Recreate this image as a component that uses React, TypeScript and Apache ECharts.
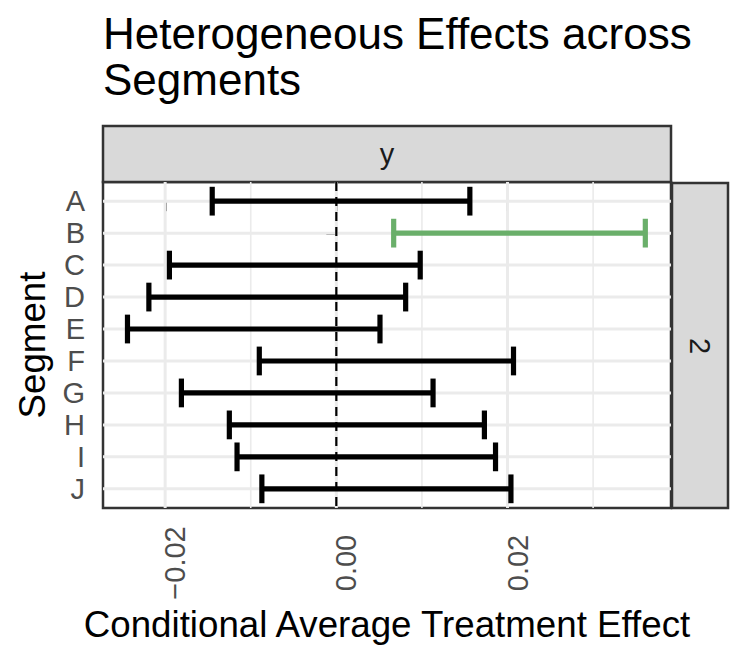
import React, { useEffect, useRef } from "react";
import * as echarts from "echarts";

// ---- data ----
const segments = ["A", "B", "C", "D", "E", "F", "G", "H", "I", "J"];
const lowerCI = [-0.0145, 0.0067, -0.0195, -0.0219, -0.0244, -0.009, -0.0181, -0.0125, -0.0116, -0.0087];
const upperCI = [0.0156, 0.0361, 0.0098, 0.0081, 0.0051, 0.0207, 0.0113, 0.0173, 0.0186, 0.0204];
const xTicks = [-0.02, 0, 0.02];
const xMinorGrid = [-0.01, 0.01, 0.03];
const xMin = -0.02726;
const xMax = 0.0391;
const refValue = 0;
const facetCol = "y";
const facetRow = "2";
const titleText = "Heterogeneous Effects across\nSegments";
const xTitle = "Conditional Average Treatment Effect";
const yTitle = "Segment";

const FONT = '"Liberation Sans", Arial, Helvetica, sans-serif';
const GREEN = "#6AAF6A";
const GRID_COL = "#EBEBEB";
const DARK = "#333333";

const fmtX = (v: number) => {
  const s = Math.abs(v).toFixed(2);
  return v < -1e-9 ? "\u2212" + s : s;
};

export default function App() {
  const ref = useRef<HTMLDivElement>(null);
  useEffect(() => {
    if (!ref.current) return;
    const chart = echarts.init(ref.current, null, { renderer: "svg" });
    const yIdx = segments.map((_, i) => i);

    const gridData: number[][] = [
      ...xTicks.map((v) => [0, v]),
      ...xMinorGrid.map((v) => [1, v]),
      ...yIdx.map((i) => [2, i]),
      [3, refValue],
    ];

    const option: any = {
      animation: false,
      grid: {
        left: 103,
        top: 182,
        width: 568,
        height: 326,
        show: true,
        backgroundColor: "#ffffff",
        borderColor: DARK,
        borderWidth: 2.5,
        containLabel: false,
        outerBoundsMode: "none",
      },
      xAxis: {
        type: "value",
        min: xMin,
        max: xMax,
        splitLine: { show: false },
        axisLine: { show: false },
        axisTick: {
          show: true,
          customValues: xTicks,
          length: 10,
          lineStyle: { color: DARK, width: 3 },
        },
        axisLabel: {
          customValues: xTicks,
          formatter: (v: number) => fmtX(v),
          rotate: 90,
          align: "center",
          verticalAlign: "top",
          lineHeight: 20,
          margin: 55,
          fontSize: 29,
          fontFamily: FONT,
          color: "#4D4D4D",
        },
      },
      yAxis: {
        type: "value",
        min: -0.6,
        max: 9.6,
        inverse: true,
        splitLine: { show: false },
        axisLine: { show: false },
        axisTick: {
          show: true,
          customValues: yIdx,
          length: 10,
          lineStyle: { color: DARK, width: 3 },
        },
        axisLabel: {
          customValues: yIdx,
          formatter: (v: number) => segments[Math.round(v)] ?? "",
          margin: 18,
          fontSize: 29,
          fontFamily: FONT,
          color: "#4D4D4D",
        },
      },
      series: [
        {
          type: "custom",
          silent: true,
          z: 1,
          data: gridData,
          renderItem: (params: any, api: any) => {
            const kind = api.value(0);
            const v = api.value(1);
            if (kind === 2) {
              const a = api.coord([xMin, v]);
              const b = api.coord([xMax, v]);
              return {
                type: "line",
                shape: { x1: a[0], y1: a[1], x2: b[0], y2: b[1] },
                style: { stroke: GRID_COL, lineWidth: 3 },
              };
            }
            const a = api.coord([v, -0.6]);
            const b = api.coord([v, 9.6]);
            if (kind === 3) {
              return {
                type: "line",
                z2: 5,
                shape: { x1: a[0], y1: a[1], x2: b[0], y2: b[1] },
                style: { stroke: "#000000", lineWidth: 2.2, lineDash: [9, 6] },
              };
            }
            return {
              type: "line",
              shape: { x1: a[0], y1: a[1], x2: b[0], y2: b[1] },
              style: { stroke: GRID_COL, lineWidth: kind === 0 ? 3 : 1.6 },
            };
          },
        },
        {
          type: "custom",
          silent: true,
          z: 3,
          data: segments.map((_, i) => [lowerCI[i], upperCI[i], i]),
          encode: { x: [0, 1], y: 2 },
          renderItem: (params: any, api: any) => {
            const lo = api.value(0);
            const hi = api.value(1);
            const i = api.value(2);
            const p1 = api.coord([lo, i]);
            const p2 = api.coord([hi, i]);
            const t = api.coord([lo, i - 0.45]);
            const b = api.coord([lo, i + 0.45]);
            const color = lo > 0 || hi < 0 ? GREEN : "#000000";
            const style = { stroke: color, lineWidth: 5.2 };
            return {
              type: "group",
              children: [
                { type: "line", shape: { x1: p1[0], y1: p1[1], x2: p2[0], y2: p2[1] }, style },
                { type: "line", shape: { x1: p1[0], y1: t[1], x2: p1[0], y2: b[1] }, style },
                { type: "line", shape: { x1: p2[0], y1: t[1], x2: p2[0], y2: b[1] }, style },
              ],
            };
          },
        },
      ],
      graphic: [
        {
          type: "text",
          x: 103,
          y: 10,
          style: {
            text: titleText,
            fontSize: 44,
            fontFamily: FONT,
            lineHeight: 46,
            fill: "#000000",
            align: "left",
            verticalAlign: "top",
            textAlign: "left",
            textVerticalAlign: "top",
          },
        },
        {
          type: "rect",
          shape: { x: 103, y: 126, width: 568, height: 56 },
          style: { fill: "#D9D9D9", stroke: DARK, lineWidth: 2.5 },
        },
        {
          type: "text",
          x: 387,
          y: 154,
          style: {
            text: facetCol,
            fontSize: 29,
            fontFamily: FONT,
            fill: "#1A1A1A",
            align: "center",
            verticalAlign: "middle",
            textAlign: "center",
            textVerticalAlign: "middle",
          },
        },
        {
          type: "rect",
          shape: { x: 672, y: 183, width: 56, height: 325 },
          style: { fill: "#D9D9D9", stroke: DARK, lineWidth: 2.5 },
        },
        {
          type: "text",
          x: 700,
          y: 346,
          rotation: -Math.PI / 2,
          style: {
            text: facetRow,
            fontSize: 29,
            fontFamily: FONT,
            fill: "#1A1A1A",
            align: "center",
            verticalAlign: "middle",
            textAlign: "center",
            textVerticalAlign: "middle",
          },
        },
        {
          type: "text",
          x: 387,
          y: 624,
          style: {
            text: xTitle,
            fontSize: 36.7,
            fontFamily: FONT,
            fill: "#000000",
            align: "center",
            verticalAlign: "middle",
            textAlign: "center",
            textVerticalAlign: "middle",
          },
        },
        {
          type: "text",
          x: 32,
          y: 345,
          rotation: Math.PI / 2,
          style: {
            text: yTitle,
            fontSize: 36.7,
            fontFamily: FONT,
            fill: "#000000",
            align: "center",
            verticalAlign: "middle",
            textAlign: "center",
            textVerticalAlign: "middle",
          },
        },
      ],
    };
    chart.setOption(option);
    return () => chart.dispose();
  }, []);
  return (
    <div
      ref={ref}
      style={{ position: "absolute", left: 0, top: 0, width: 747, height: 664, background: "#ffffff" }}
    />
  );
}
